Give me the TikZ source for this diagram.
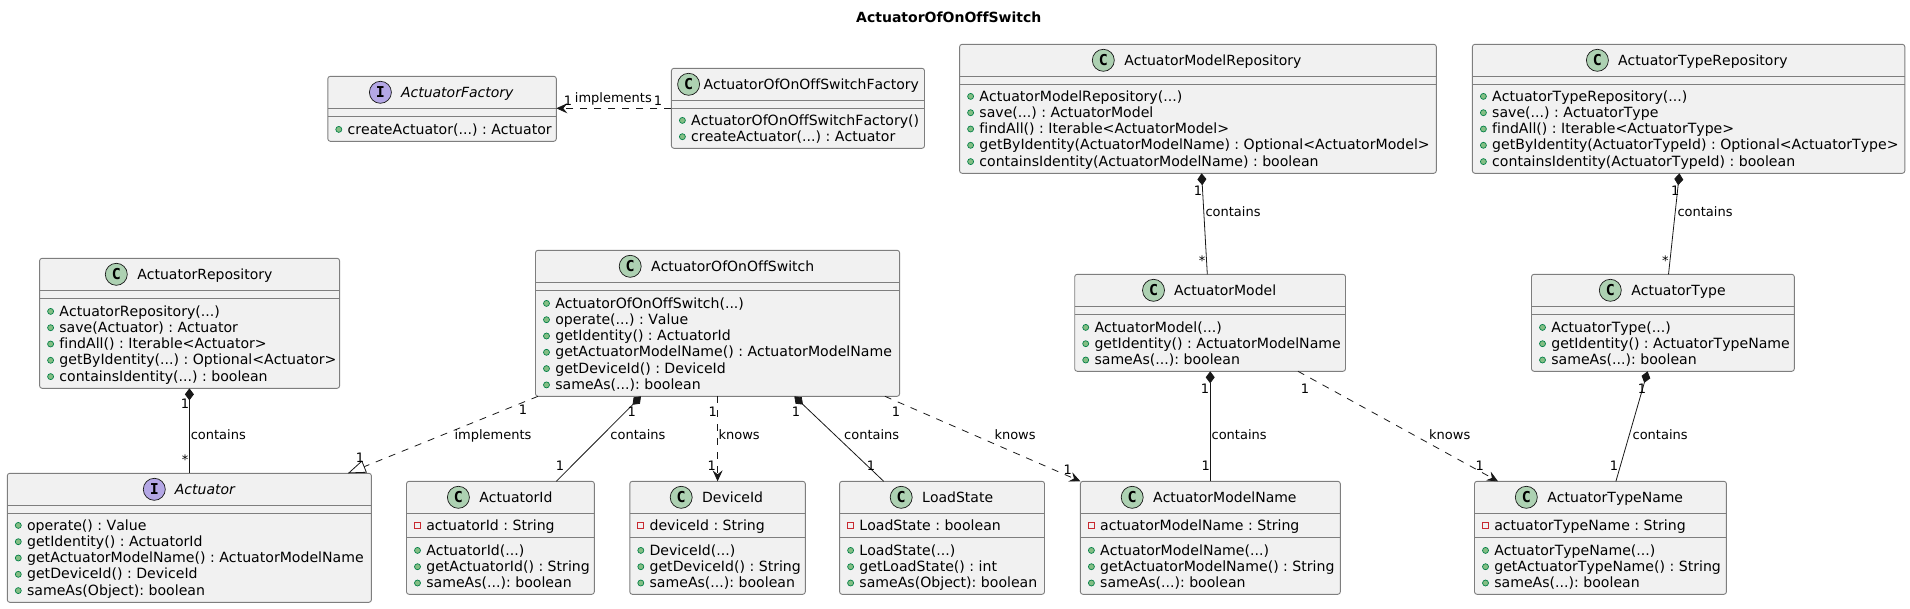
\documentclass[tikz,border=0pt]{standalone}
\usepackage{fontspec}
\setmainfont{DejaVu Sans}[Kerning=Off,Ligatures=NoCommon]
\newfontfamily\iconfont{DejaVu Sans Mono}
\frenchspacing
\usetikzlibrary{arrows.meta, calc}

\definecolor{boxfill}{HTML}{F1F1F1}
\definecolor{boxline}{HTML}{7E7E7E}
\definecolor{linkline}{HTML}{181818}
\definecolor{classicon}{HTML}{ADD1B2}
\definecolor{ifaceicon}{HTML}{B4A7E5}
\definecolor{pubfill}{HTML}{84BE84}
\definecolor{publine}{HTML}{038048}
\definecolor{privline}{HTML}{C82930}

\tikzset{
	classbox/.style={draw=boxline, fill=boxfill, line width=0.9pt, rounded corners=2.5pt, inner sep=0pt, outer sep=0pt},
	seprule/.style={draw=boxline, line width=0.9pt},
	icon/.style={circle, draw=linkline, line width=0.7pt, minimum size=22pt, inner sep=0pt, font=\iconfont\fontsize{15}{15}\selectfont\bfseries},
	titletext/.style={anchor=base west, inner sep=0pt, font=\fontsize{14}{16}\selectfont},
	member/.style={anchor=base west, inner sep=0pt, font=\fontsize{14.1}{16}\selectfont},
	pub/.style={circle, draw=publine, fill=pubfill, line width=0.7pt, minimum size=6pt, inner sep=0pt},
	priv/.style={rectangle, draw=privline, fill=boxfill, line width=0.8pt, minimum size=6pt, inner sep=0pt},
	linklabel/.style={anchor=base west, inner sep=0pt, font=\fontsize{13}{15}\selectfont},
	multi/.style={anchor=base, inner sep=0pt, font=\fontsize{13}{15}\selectfont},
	comp/.style={linkline, line width=0.8pt, {Diamond[length=12pt,width=9pt]}-},
	dep/.style={linkline, line width=0.8pt, dash pattern=on 7pt off 7pt, -{Stealth[length=11pt,width=10pt,inset=4pt]}},
	real/.style={linkline, line width=0.8pt, dash pattern=on 7pt off 7pt, -{Triangle[open,length=18pt,width=13pt]}},
}

\newcommand{\el}{...}

% name, x1, y1, x2, y2, rule 1, rule 2
\newcommand{\classbox}[7]{
	\node [classbox, minimum width={(#4-#2)*1pt}, minimum height={(#5-#3)*1pt}] (#1) at ({(#2+#4)/2},{(#3+#5)/2}) {};
	\draw [seprule] (#1.west |- 0,#6) -- (#1.east |- 0,#6);
	\draw [seprule] (#1.west |- 0,#7) -- (#1.east |- 0,#7);
}
% name, letter, colour, icon x, text x, title
\newcommand{\classhead}[6]{
	\node [icon, fill=#3] (#1-i) at (#4,0 |- #1.north) [yshift=-16pt] {#2};
	\node [titletext] (#1-t) at (#5,0 |- #1.north) [yshift=-21.2pt] {#6};
}
% tag, mark style, x, first baseline, rows
\newcommand{\members}[5]{
	\foreach \txt [count=\i] in {#5} {
		\pgfmathsetmacro{\yy}{#4+(\i-1)*16.3}
		\node [#2] (#1-b\i) at (#3+11,\yy-4.6) {};
		\node [member] (#1-m\i) at (#3+19.6,\yy) {\txt};
	}
}

\begin{document}
\begin{tikzpicture}
	[x=1pt, y=-1pt]
	\useasboundingbox (0,0) rectangle (1910,608);

	\node [anchor=base, inner sep=0pt, font=\fontsize{14}{16}\selectfont\bfseries] (title) at (948.8,22.7) {ActuatorOfOnOffSwitch};

	\classbox{afact}{327.8}{76.3}{556.3}{141.3}{108.3}{116.3}
	\classhead{afact}{I}{ifaceicon}{380.4}{400.8}{\itshape ActuatorFactory}
	\members{afact}{pub}{327.8}{134}{createActuator(\el) : Actuator}

	\classbox{sfact}{671.4}{68.3}{924.5}{148.3}{100.3}{108.3}
	\classhead{sfact}{C}{classicon}{688.6}{703.3}{ActuatorOfOnOffSwitchFactory}
	\members{sfact}{pub}{671.4}{125}{ActuatorOfOnOffSwitchFactory(),createActuator(\el) : Actuator}

	\classbox{mrepo}{959.6}{44.3}{1436.3}{173.3}{76.3}{84.3}
	\classhead{mrepo}{C}{classicon}{1103.3}{1124.1}{ActuatorModelRepository}
	\members{mrepo}{pub}{959.6}{101}{ActuatorModelRepository(\el),save(\el) : ActuatorModel,findAll() : Iterable<ActuatorModel>,getByIdentity(ActuatorModelName) : Optional<ActuatorModel>,containsIdentity(ActuatorModelName) : boolean}

	\classbox{trepo}{1472.4}{44.3}{1904.8}{173.3}{76.3}{84.3}
	\classhead{trepo}{C}{classicon}{1597.4}{1617.9}{ActuatorTypeRepository}
	\members{trepo}{pub}{1472.4}{101}{ActuatorTypeRepository(\el),save(\el) : ActuatorType,findAll() : Iterable<ActuatorType>,getByIdentity(ActuatorTypeId) : Optional<ActuatorType>,containsIdentity(ActuatorTypeId) : boolean}

	\classbox{arepo}{39.6}{258.3}{339.6}{388.3}{290.3}{298.3}
	\classhead{arepo}{C}{classicon}{116.3}{137.1}{ActuatorRepository}
	\members{arepo}{pub}{39.6}{316}{ActuatorRepository(\el),save(Actuator) : Actuator,findAll() : Iterable<Actuator>,getByIdentity(\el) : Optional<Actuator>,containsIdentity(\el) : boolean}

	\classbox{sw}{535.5}{250.3}{899.6}{396.3}{282.3}{290.3}
	\classhead{sw}{C}{classicon}{630.2}{651}{ActuatorOfOnOffSwitch}
	\members{sw}{pub}{535.5}{308}{ActuatorOfOnOffSwitch(\el),operate(\el) : Value,getIdentity() : ActuatorId,getActuatorModelName() : ActuatorModelName,getDeviceId() : DeviceId,sameAs(\el): boolean}

	\classbox{act}{7.3}{473.3}{371.4}{602.3}{505.3}{513.3}
	\classhead{act}{I}{ifaceicon}{154.3}{174.7}{\itshape Actuator}
	\members{act}{pub}{7.3}{530}{operate() : Value,getIdentity() : ActuatorId,getActuatorModelName() : ActuatorModelName,getDeviceId() : DeviceId,sameAs(Object): boolean}

	\classbox{aid}{406.5}{481.3}{594.3}{594.3}{513.3}{537.3}
	\classhead{aid}{C}{classicon}{458.4}{479.2}{ActuatorId}
	\members{aidf}{priv}{406.5}{530}{actuatorId : String}
	\members{aid}{pub}{406.5}{555}{ActuatorId(\el),getActuatorId() : String,sameAs(\el): boolean}

	\classbox{did}{629.8}{481.3}{805.3}{594.3}{513.3}{537.3}
	\classhead{did}{C}{classicon}{681.2}{702}{DeviceId}
	\members{didf}{priv}{629.8}{530}{deviceId : String}
	\members{did}{pub}{629.8}{555}{DeviceId(\el),getDeviceId() : String,sameAs(\el): boolean}

	\classbox{load}{839.6}{481.3}{1044.5}{594.3}{513.3}{537.3}
	\classhead{load}{C}{classicon}{901.2}{922}{LoadState}
	\members{loadf}{priv}{839.6}{530}{LoadState : boolean}
	\members{load}{pub}{839.6}{555}{LoadState(\el),getLoadState() : int,sameAs(Object): boolean}

	\classbox{mname}{1080.4}{481.3}{1340.3}{594.3}{513.3}{537.3}
	\classhead{mname}{C}{classicon}{1132.2}{1153}{ActuatorModelName}
	\members{mnamef}{priv}{1080.4}{530}{actuatorModelName : String}
	\members{mname}{pub}{1080.4}{555}{ActuatorModelName(\el),getActuatorModelName() : String,sameAs(\el): boolean}

	\classbox{tname}{1474.5}{481.3}{1726.4}{594.3}{513.3}{537.3}
	\classhead{tname}{C}{classicon}{1526.3}{1547.2}{ActuatorTypeName}
	\members{tnamef}{priv}{1474.5}{530}{actuatorTypeName : String}
	\members{tname}{pub}{1474.5}{555}{ActuatorTypeName(\el),getActuatorTypeName() : String,sameAs(\el): boolean}

	\classbox{model}{1074.7}{274.3}{1345.5}{371.3}{306.3}{314.3}
	\classhead{model}{C}{classicon}{1153.5}{1173.9}{ActuatorModel}
	\members{model}{pub}{1074.7}{332}{ActuatorModel(\el),getIdentity() : ActuatorModelName,sameAs(\el): boolean}

	\classbox{type}{1531.5}{274.3}{1794.3}{371.3}{306.3}{314.3}
	\classhead{type}{C}{classicon}{1610.3}{1631.1}{ActuatorType}
	\members{type}{pub}{1531.5}{332}{ActuatorType(\el),getIdentity() : ActuatorTypeName,sameAs(\el): boolean}

	\draw [dep] ([yshift=-40pt]sfact.north west) -- ([yshift=-32pt]afact.north east);

	\foreach \from/\fx/\to/\tx in {arepo/149.8/act/182.1, model/135.5/mname/129.8, type/116.1/tname/141.4, mrepo/242/model/132.6, trepo/207/type/137, sw/105.5/aid/149.8, sw/258.8/load/44.1}
	\draw [comp] ([xshift=\fx pt]\from.south west) -- ([xshift=\tx pt]\to.north west);

	\foreach \from/\fx/\to/\tx in {sw/182.1/did/87.8, sw/349.4/mname/0, model/223.3/tname/23.5}
	\draw [dep] ([xshift=\fx pt]\from.south west) -- ([xshift=\tx pt]\to.north west);

	\draw [real] ([xshift=2.5pt]sw.south west) -- ([xshift=340.5pt]act.north west);

	\foreach \x/\y/\txt [count=\n] in {574.7/102.7/implements, 190.6/439.7/contains, 454.3/439.7/implements, 610.2/439.7/contains, 718.4/439.7/knows, 844/439.7/contains, 994.3/439.7/knows, 1211.4/439.7/contains, 1429/439.7/knows, 1632.4/439.7/contains, 1205.3/216.7/contains, 1677.3/216.7/contains}
	\node [linklabel] (lab\n) at (\x,\y) {\txt};

	\foreach \x/\y/\txt [count=\n] in {568/105/1, 658/105/1, 185/408/1, 185/464/*, 522.9/414/1, 360/462.3/1, 631.8/416.7/1, 560/470.7/1, 712.7/416.7/1, 711.8/470.7/1, 796/416.7/1, 871/470.7/1, 896/416.7/1, 1067.8/474.7/1, 1205/393/1, 1205.7/470.7/1, 1305/393/1, 1479.7/470.7/1, 1642/393/1, 1613.9/470.7/1, 1198/195/1, 1202/265.6/*, 1675.3/195/1, 1665.3/265.6/*}
	\node [multi] (mul\n) at (\x,\y) {\txt};
\end{tikzpicture}
\end{document}
